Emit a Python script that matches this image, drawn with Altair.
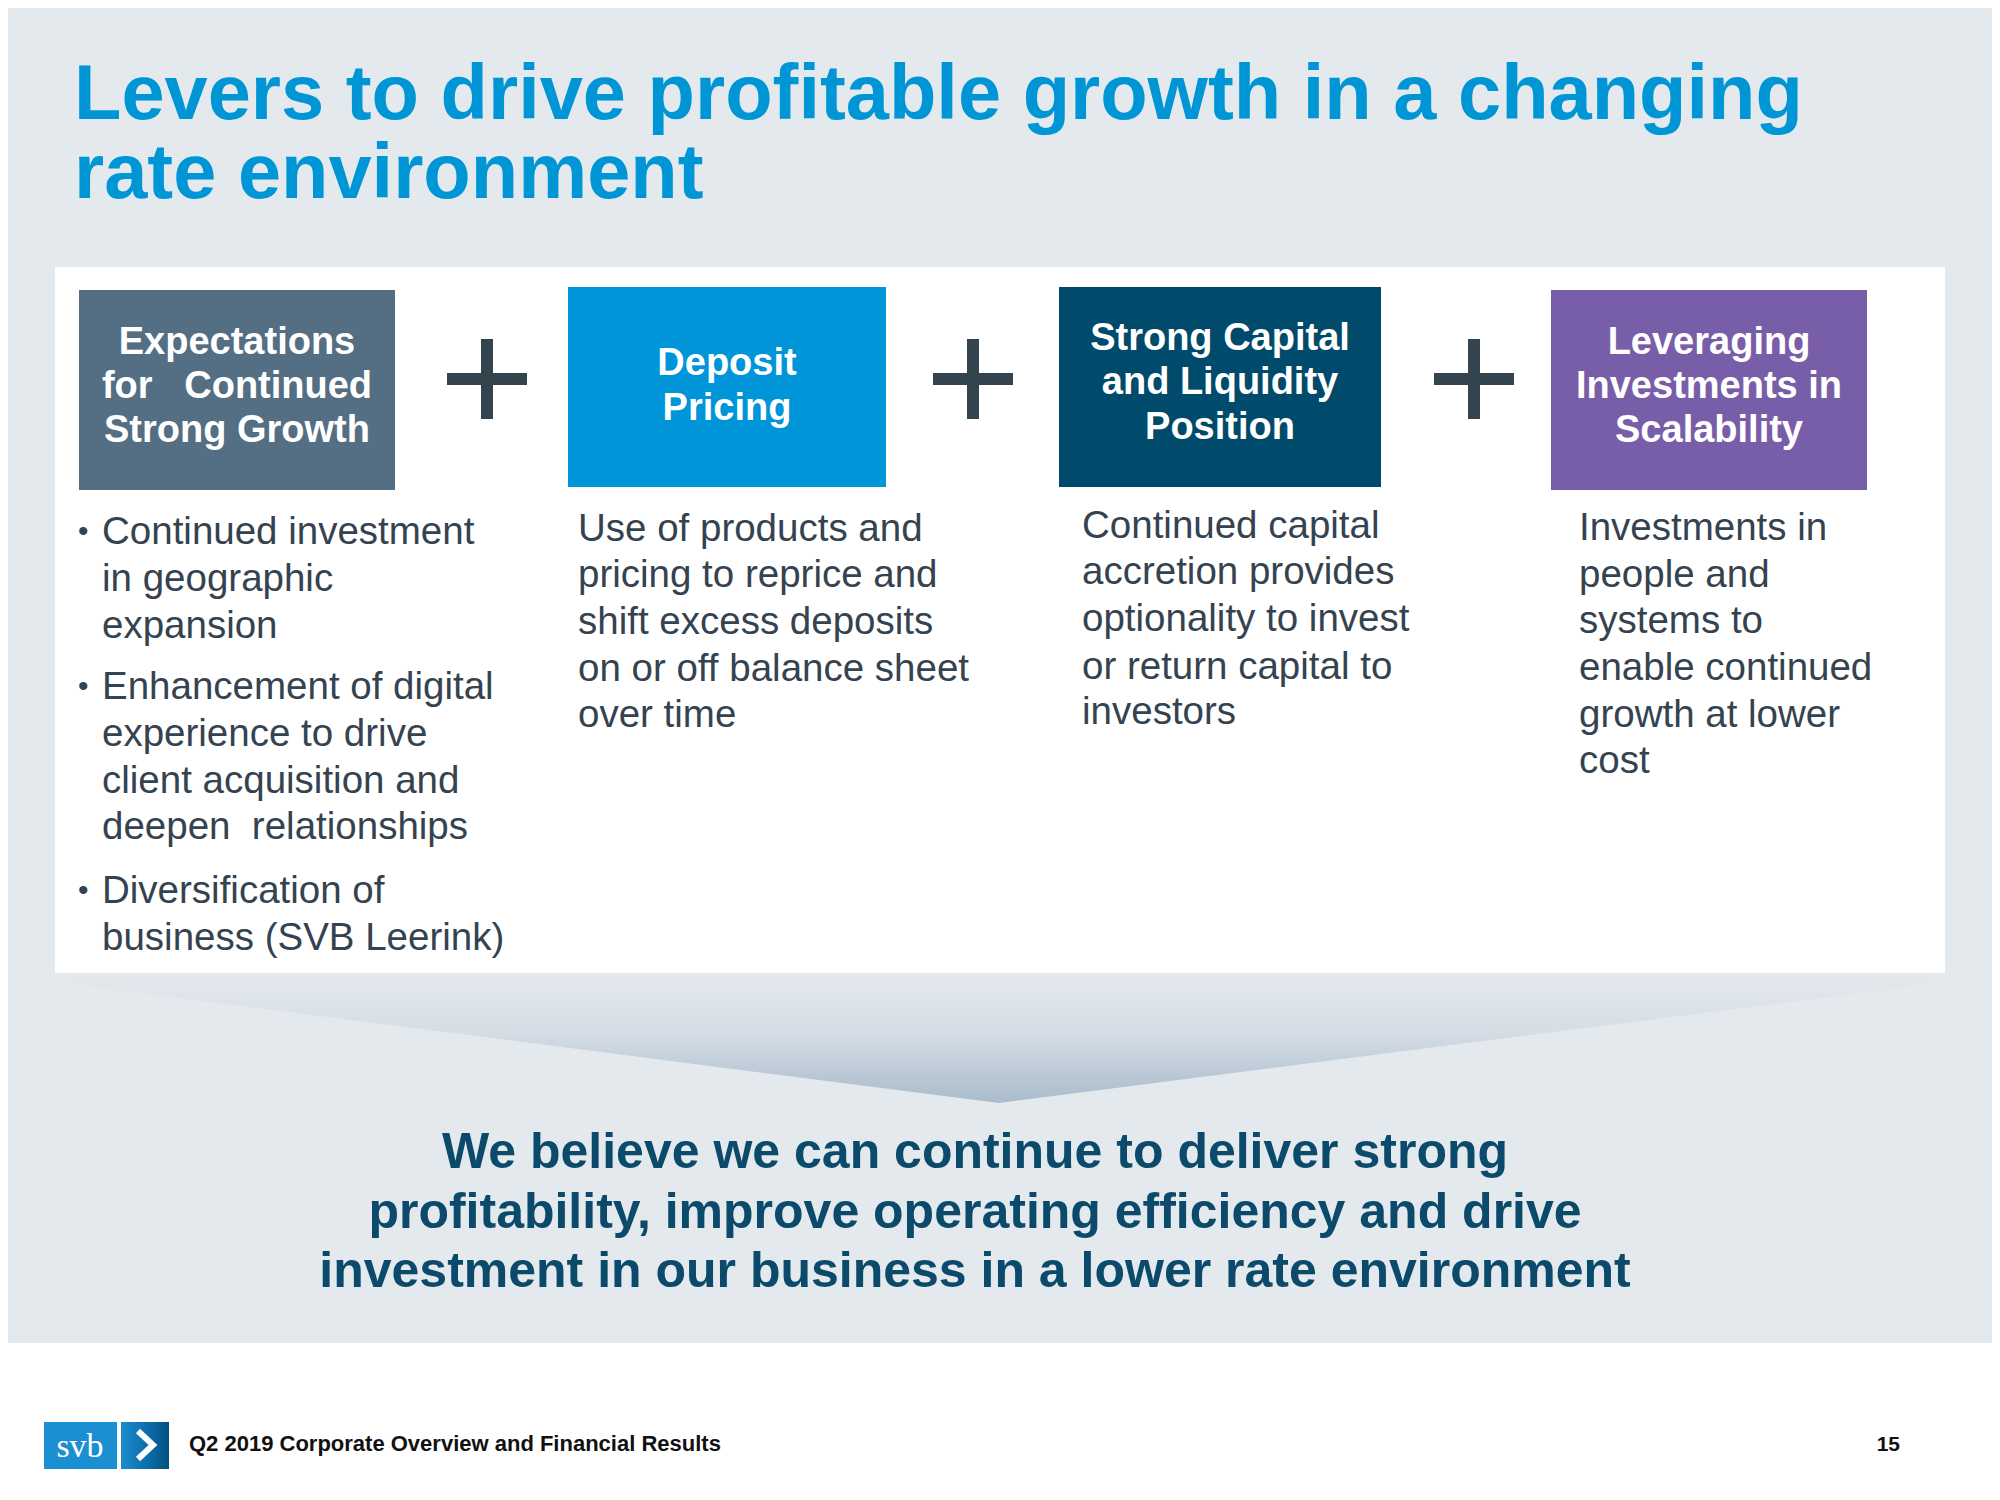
import altair as alt
import pandas as pd

W, H = 1984, 1484
X0, Y0 = 8, 8  # page margin: chart pixel coordinates == reference pixel coordinates

# ---------------- content ----------------
title_lines = ["Levers to drive profitable growth in a changing", "rate environment"]
title_baselines = [119, 198]

box_labels = [
    ["Expectations", "for\u00a0\u00a0\u00a0Continued", "Strong Growth"],
    ["Deposit", "Pricing"],
    ["Strong Capital", "and Liquidity", "Position"],
    ["Leveraging", "Investments in", "Scalability"],
]
box_label_y = [[343, 387, 431], [364, 409], [339, 383, 428], [343, 387, 431]]
box_colors = ["#546E83", "#0095D9", "#004A6B", "#785EA8"]
box_x0 = [79, 568, 1059, 1551]
box_x1 = [395, 886, 1381, 1867]
box_y0 = [290, 287, 287, 290]
box_y1 = [490, 487, 487, 490]

col_lines = [
    ["Continued investment", "in geographic", "expansion",
     "Enhancement of digital", "experience to drive", "client acquisition and",
     "deepen\u00a0\u00a0relationships", "Diversification of", "business (SVB Leerink)"],
    ["Use of products and", "pricing to reprice and", "shift excess deposits",
     "on or off balance sheet", "over time"],
    ["Continued capital", "accretion provides", "optionality to invest",
     "or return capital to", "investors"],
    ["Investments in", "people and", "systems to", "enable continued",
     "growth at lower", "cost"],
]
col_line_y = [
    [532, 579, 626, 687, 734, 781, 827, 891, 938],
    [529, 575, 622, 669, 715],
    [526, 572, 619, 667, 712],
    [528, 575, 621, 668, 715, 761],
]
col_x = [102, 578, 1082, 1579]
bullet_rows = [0, 3, 7]
bullet_x = 78

plus_x = [487, 973, 1474]
plus_y = 379
plus_arm = 40
plus_thick = 12

summary_lines = [
    "We believe we can continue to deliver strong",
    "profitability, improve operating efficiency and drive",
    "investment in our business in a lower rate environment",
]
summary_baselines = [1168, 1228, 1287]
summary_x = 975

footer_text = "Q2 2019 Corporate Overview and Financial Results"
page_number = "15"

# ---------------- scales ----------------
xs = alt.Scale(domain=[X0, X0 + W], nice=False, zero=False)
ys = alt.Scale(domain=[Y0, Y0 + H], nice=False, zero=False, reverse=True)


def X(f):
    return alt.X(f"{f}:Q", scale=xs, axis=None)


def Y(f):
    return alt.Y(f"{f}:Q", scale=ys, axis=None)


def rects(df, **mk):
    return alt.Chart(df).mark_rect(**mk).encode(
        x=X("x0"), x2=alt.X2("x1"), y=Y("y0"), y2=alt.Y2("y1"))


def texts(df, **mk):
    return alt.Chart(df).mark_text(**mk).encode(x=X("x"), y=Y("y"), text="t:N")


BODY = "#34434F"
SANS = "Liberation Sans"
layers = []

# backgrounds
layers.append(rects(pd.DataFrame({"x0": [X0], "x1": [X0 + W], "y0": [Y0], "y1": [1343]}),
                    color="#E4E9ED"))

# gradient triangle
tri = pd.DataFrame({"x": [0, 999, 2000], "top": [975, 975, 975], "bot": [975, 1103, 975]})
layers.append(alt.Chart(tri).mark_area(
    clip=True,
    color=alt.Gradient(gradient="linear",
                       stops=[alt.GradientStop(color="#E4E9ED", offset=0),
                              alt.GradientStop(color="#D5DDE5", offset=0.45),
                              alt.GradientStop(color="#A9BBCC", offset=1)],
                       x1=0, x2=0, y1=0, y2=1),
).encode(x=X("x"), y=Y("top"), y2=alt.Y2("bot")))

# white panel
layers.append(rects(pd.DataFrame({"x0": [55], "x1": [1945], "y0": [267], "y1": [973]}),
                    color="#FFFFFF"))

# title
layers.append(texts(pd.DataFrame({"x": [74, 74], "y": title_baselines, "t": title_lines}),
                    align="left", baseline="alphabetic", font=SANS, fontSize=77.6,
                    fontWeight="bold", color="#0096D6"))

# coloured boxes
boxes = pd.DataFrame({"x0": box_x0, "x1": box_x1, "y0": box_y0, "y1": box_y1, "c": box_colors})
layers.append(alt.Chart(boxes).mark_rect().encode(
    x=X("x0"), x2=alt.X2("x1"), y=Y("y0"), y2=alt.Y2("y1"),
    color=alt.Color("c:N", scale=None)))

rows = []
for i, lines in enumerate(box_labels):
    cx = (box_x0[i] + box_x1[i]) / 2
    for t, y in zip(lines, box_label_y[i]):
        rows.append({"x": cx, "y": y, "t": t})
layers.append(texts(pd.DataFrame(rows), align="center", baseline="middle", font=SANS,
                    fontSize=38, fontWeight="bold", color="#FFFFFF"))

# plus signs
ph = pd.DataFrame({"x0": [p - plus_arm for p in plus_x], "x1": [p + plus_arm for p in plus_x],
                   "y0": [plus_y - plus_thick / 2] * 3, "y1": [plus_y + plus_thick / 2] * 3})
pv = pd.DataFrame({"x0": [p - plus_thick / 2 for p in plus_x], "x1": [p + plus_thick / 2 for p in plus_x],
                   "y0": [plus_y - plus_arm] * 3, "y1": [plus_y + plus_arm] * 3})
layers.append(rects(ph, color="#34444F"))
layers.append(rects(pv, color="#34444F"))

# body text
rows = []
for i, lines in enumerate(col_lines):
    for t, y in zip(lines, col_line_y[i]):
        rows.append({"x": col_x[i], "y": y, "t": t})
layers.append(texts(pd.DataFrame(rows), align="left", baseline="middle", font=SANS,
                    fontSize=38.5, color=BODY))
bul = pd.DataFrame({"x": [bullet_x] * len(bullet_rows),
                    "y": [col_line_y[0][r] for r in bullet_rows],
                    "t": ["\u2022"] * len(bullet_rows)})
layers.append(texts(bul, align="left", baseline="middle", font=SANS, fontSize=30, color=BODY))

# summary statement
layers.append(texts(pd.DataFrame({"x": [summary_x] * 3, "y": summary_baselines, "t": summary_lines}),
                    align="center", baseline="alphabetic", font=SANS, fontSize=50,
                    fontWeight="bold", color="#0B4A6B"))

# footer logo
layers.append(rects(pd.DataFrame({"x0": [44], "x1": [117], "y0": [1422], "y1": [1469]}),
                    color="#1B8FD2"))
layers.append(rects(pd.DataFrame({"x0": [121], "x1": [169], "y0": [1422], "y1": [1469]}),
                    color=alt.Gradient(gradient="linear",
                                       stops=[alt.GradientStop(color="#1C8CCD", offset=0),
                                              alt.GradientStop(color="#0A6BA8", offset=0.6),
                                              alt.GradientStop(color="#024F7E", offset=1)],
                                       x1=0, x2=1, y1=0, y2=0)))
layers.append(texts(pd.DataFrame({"x": [80], "y": [1457], "t": ["svb"]}),
                    align="center", baseline="alphabetic", font="Liberation Serif",
                    fontSize=34, color="#FFFFFF"))
chev = pd.DataFrame({"x": [138, 153, 138], "y": [1431, 1445, 1459], "i": [0, 1, 2]})
layers.append(alt.Chart(chev).mark_line(color="#FFFFFF", strokeWidth=6, strokeCap="butt",
                                        strokeJoin="miter").encode(
    x=X("x"), y=Y("y"), order="i:O"))

# footer texts
layers.append(texts(pd.DataFrame({"x": [189], "y": [1451], "t": [footer_text]}),
                    align="left", baseline="alphabetic", font=SANS, fontSize=22,
                    fontWeight="bold", color="#111111"))
layers.append(texts(pd.DataFrame({"x": [1900], "y": [1451], "t": [page_number]}),
                    align="right", baseline="alphabetic", font=SANS, fontSize=21,
                    fontWeight="bold", color="#111111"))

chart = alt.layer(*layers).properties(
    width=W, height=H, padding=0, background="#FFFFFF",
    autosize=alt.AutoSizeParams(type="none"),
).configure_view(strokeWidth=0)

chart.save("out.html", embed_options={"renderer": "svg", "actions": False})
